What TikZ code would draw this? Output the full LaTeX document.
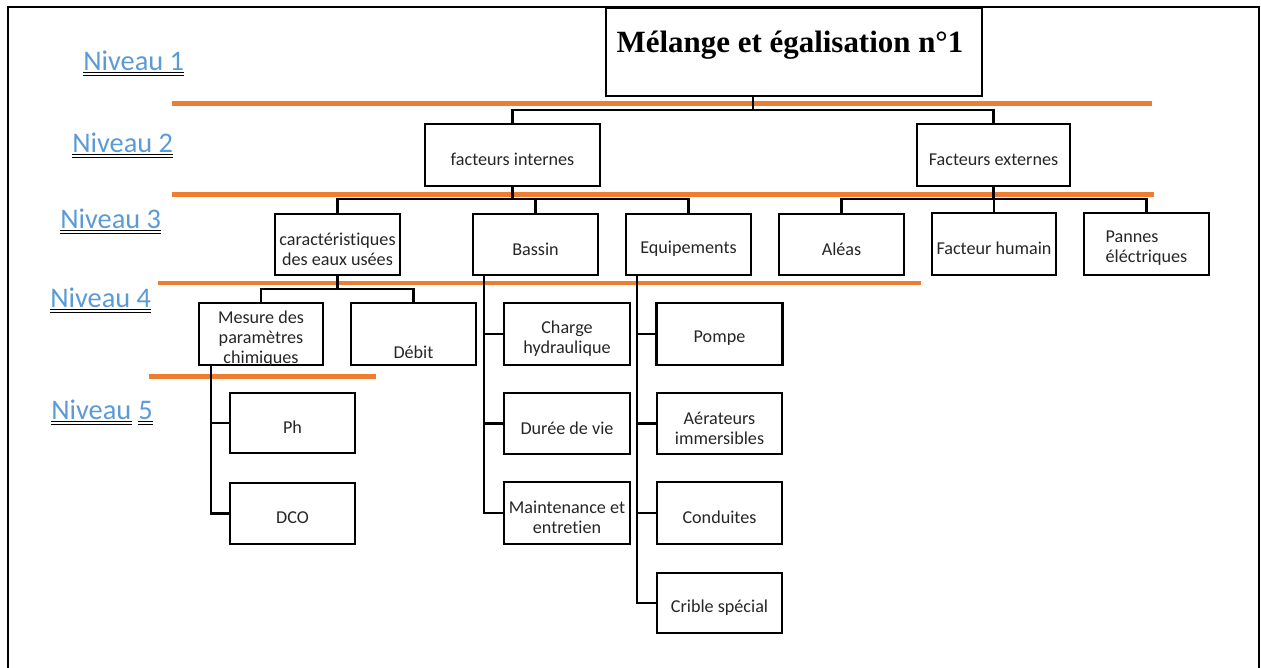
\documentclass[tikz,border=0pt]{standalone}
\usepackage{fontspec}
\setmainfont{Carlito}[Ligatures=NoCommon]
\newfontfamily\titlefont{Liberation Serif}
\definecolor{orng}{HTML}{ED7D31}
\definecolor{lvlblue}{HTML}{5B9BD5}
\newcommand\dblul[1]{%
  \draw[ul] ([yshift=-1.9pt]#1.base west) -- ([yshift=-1.9pt]#1.base east)
            ([yshift=-4.1pt]#1.base west) -- ([yshift=-4.1pt]#1.base east);}
\begin{document}
\begin{tikzpicture}[x=0.75pt,y=-0.75pt,
  box/.style={draw=black, line width=2pt, fill=white, inner sep=0pt},
  sz/.style 2 args={minimum width=#1*0.75pt, minimum height=#2*0.75pt},
  txt/.style={inner sep=0pt, align=center, yshift=-3.4pt,
    font=\fontsize{13.6}{15}\selectfont, text=black!85},
  tx/.style 2 args={label={[txt, name=#1]center:#2}},
  link/.style={draw=black, line width=1.7pt},
  band/.style={draw=orng, line width=#1*0.75pt},
  lvl/.style={inner sep=0pt, anchor=base west, text=lvlblue, font=\fontsize{21.3}{24}\selectfont},
  ul/.style={draw=black, line width=0.8pt},
  frame/.style={draw=black, line width=2pt}]
\useasboundingbox (0,0) rectangle (1261,668);

% outer frame, open at the bottom
\draw[frame] (8,668) -- (8,7) -- (1259,7) -- (1259,668);

% level separators
\draw[band=5] (172,103.5) -- (1152,103.5);
\draw[band=5] (172,194.5) -- (1154,194.5);
\draw[band=3.3] (158,283) -- (921,283);
\draw[band=4.5] (149,376.5) -- (376,376.5);

% level captions
\node[lvl] (n1) at (83,70) {Niveau 1};
\node[lvl] (n2) at (72,152) {Niveau 2};
\node[lvl] (n3) at (60,228) {Niveau 3};
\node[lvl] (n4) at (50,307) {Niveau 4};
\node[lvl] (n5) at (51,419) {Niveau};
\node[lvl] (n5d) at ([xshift=4.8pt]n5.base east) {5};
\dblul{n1} \dblul{n2} \dblul{n3} \dblul{n4} \dblul{n5} \dblul{n5d}

% root
\node[box, sz={376}{88}] (t) at (794,52) {};
\node[inner sep=0pt, font=\titlefont\bfseries\fontsize{23.2}{26}\selectfont] (tt) at (790,45.5) {Mélange et égalisation n°1};

% level 2
\node[box, sz={175}{62}, tx={fi-t}{facteurs internes}] (fi) at (512.5,155) {};
\node[box, sz={153}{62}, tx={fe-t}{Facteurs externes}] (fe) at (993.5,155) {};

% level 3
\node[box, sz={125}{61}, tx={car-t}{caractéristiques\\des eaux usées}] (car) at (337.5,244.5) {};
\node[box, sz={125}{61}, tx={bas-t}{Bassin}] (bas) at (535.5,244.5) {};
\node[box, sz={125}{61}, tx={equ-t}{Equipements}] (equ) at (688.5,244.5) {};
\node[box, sz={125}{61}, tx={ale-t}{Aléas}] (ale) at (841.5,244.5) {};
\node[box, sz={124}{62}, tx={hum-t}{Facteur humain}] (hum) at (994,244) {};
\node[box, sz={125}{62}, label={[txt, align=left, name=pan-t]center:Pannes\\éléctriques}] (pan) at (1146.5,244) {};

% level 4
\node[box, sz={124}{62}, tx={mes-t}{Mesure des\\paramètres\\chimiques}] (mes) at (261,334) {};
\node[box, sz={125}{62}] (deb) at (413.5,334) {};
\node[txt] (deb-t) at ([yshift=-10.5pt]deb.center) {Débit};
\node[box, sz={126}{62}, tx={cha-t}{Charge\\hydraulique}] (cha) at (567,334) {};
\node[box, sz={126}{62}, tx={pom-t}{Pompe}] (pom) at (719.5,334) {};

% level 5
\node[box, sz={125}{60}, tx={ph-t}{Ph}] (ph) at (292.5,423) {};
\node[box, sz={125}{61}, tx={dco-t}{DCO}] (dco) at (292.5,513.5) {};
\node[box, sz={126}{61}, tx={dur-t}{Durée de vie}] (dur) at (567,423.5) {};
\node[box, sz={126}{62}, tx={mai-t}{Maintenance et\\entretien}] (mai) at (567,513) {};
\node[box, sz={125}{61}, tx={aer-t}{Aérateurs\\immersibles}] (aer) at (719.5,423.5) {};
\node[box, sz={125}{62}, tx={con-t}{Conduites}] (con) at (719.5,513) {};
\node[box, sz={125}{60}, tx={cri-t}{Crible spécial}] (cri) at (719.5,603) {};

% connectors: root to level 2
\coordinate (j1) at (753,110);
\draw[link] (t.south -| j1) -- (j1);
\draw[link] (fi.north) |- (j1) -| (fe.north);

% level 2 to level 3
\coordinate (b2) at (0,199);
\draw[link] (fi.south) -- (fi.south |- b2);
\draw[link] (car.north) |- (equ.north |- b2) -- (equ.north);
\draw[link] (bas.north) -- (bas.north |- b2);
\draw[link] (fe.south) -- (fe.south |- b2);
\draw[link] (ale.north) |- (pan.north |- b2) -- (pan.north);
\draw[link] (hum.north) -- (hum.north |- b2);

% level 3 to level 4
\coordinate (b3) at (0,289);
\draw[link] (car.south) -- (car.south |- b3);
\draw[link] (mes.north) |- (deb.north |- b3) -- (deb.north);

% side branches
\coordinate (xm) at (211,0);
\draw[link] (mes.south -| xm) |- (dco.west);
\draw[link] (ph.west) -- (ph.west -| xm);

\coordinate (xb) at (484,0);
\draw[link] (bas.south -| xb) |- (mai.west);
\draw[link] (cha.west) -- (cha.west -| xb);
\draw[link] (dur.west) -- (dur.west -| xb);

\coordinate (xe) at (637,0);
\draw[link] (equ.south -| xe) |- (cri.west);
\draw[link] (pom.west) -- (pom.west -| xe);
\draw[link] (aer.west) -- (aer.west -| xe);
\draw[link] (con.west) -- (con.west -| xe);
\end{tikzpicture}
\end{document}
